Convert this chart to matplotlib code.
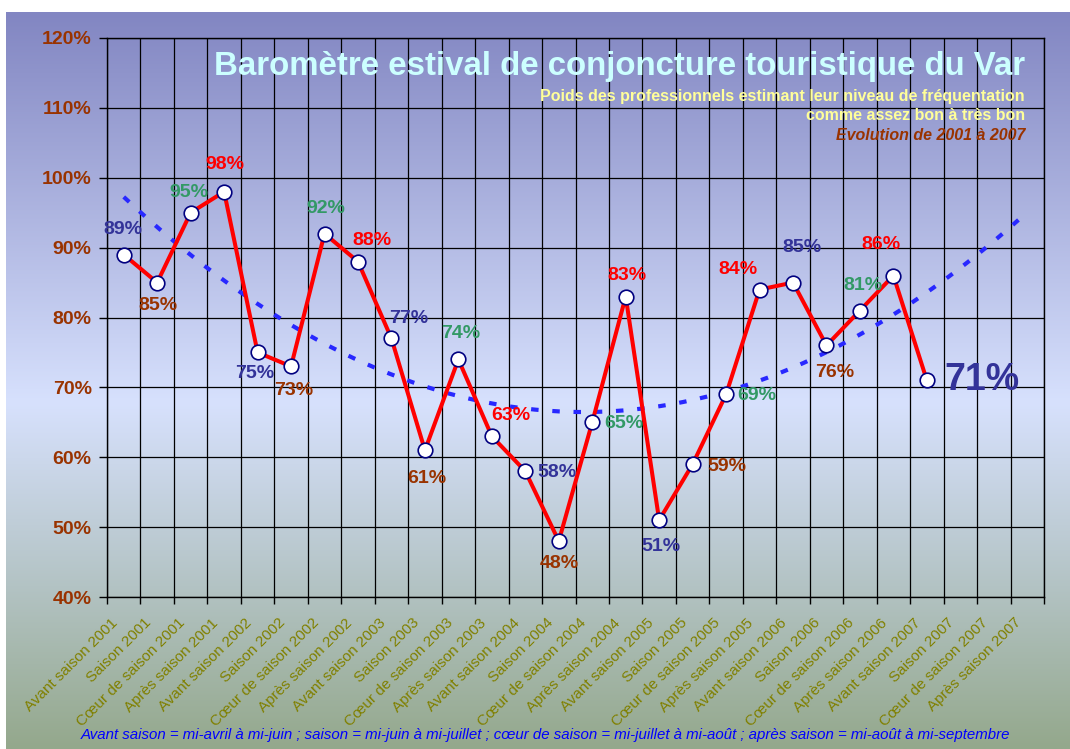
import numpy as np
import matplotlib
matplotlib.use('Agg')
import matplotlib.pyplot as plt
from matplotlib.colors import LinearSegmentedColormap
from matplotlib.transforms import ScaledTranslation

plt.rcParams['font.family'] = ['Liberation Sans', 'DejaVu Sans']

# categories (4 periods per year, 2001-2007)
periods = ['Avant saison', 'Saison', 'Cœur de saison', 'Après saison']
years = [2001, 2002, 2003, 2004, 2005, 2006, 2007]
categories = [f'{p} {y}' for y in years for p in periods]

# share of professionals with good attendance (%)
values = [89, 85, 95, 98, 75, 73, 92, 88, 77, 61, 74, 63, 58, 48, 65, 83,
          51, 59, 69, 84, 85, 76, 81, 86, 71]

# label colour per period
period_colors = ['#333399', '#993300', '#339966', '#FF0000']

# label offsets in pixels (dx, dy) from each point
label_offsets = [(-1, 25), (1, -23), (-2, 20), (1, 27), (-3, -21), (3, -24),
                 (1, 25), (14, 21), (17, 20), (2, -28), (2, 26), (19, 21),
                 (32, -1), (1, -22), (32, -1), (1, 21), (2, -26), (34, -2),
                 (31, -1), (-22, 20), (9, 35), (8, -27), (3, 25), (-12, 31)]

W, H = 1070, 749
fig = plt.figure(figsize=(W / 100, H / 100), dpi=100)
fig.patch.set_facecolor('white')

# gradient background
bg = fig.add_axes([6 / W, 0, 1 - 6 / W, 1 - 12 / H], zorder=0)
cmap = LinearSegmentedColormap.from_list(
    'bg', [(0, '#8286C2'), (0.53, '#D7E1FD'), (0.78, '#B3C3C4'), (1, '#94A88C')])
bg.imshow(np.linspace(0, 1, 256).reshape(-1, 1), aspect='auto', cmap=cmap,
          extent=[0, 1, 0, 1], origin='upper')
bg.set_axis_off()

x0, x1, y0, y1 = 107, 1044, 38, 597
ax = fig.add_axes([x0 / W, 1 - y1 / H, (x1 - x0) / W, (y1 - y0) / H], zorder=1)
ax.patch.set_alpha(0)

n = len(categories)
xs = np.arange(len(values))

# polynomial trend (order 2), extended 3 periods forward
coef = np.polyfit(xs, values, 2)
xt = np.linspace(0, n - 1, 300)
ax.plot(xt, np.polyval(coef, xt), color='#2828FF', lw=3,
        linestyle=(0, (1.8, 3.3)), zorder=2)

ax.plot(xs, values, color='#FF0000', lw=2.9, marker='o', markersize=10.5,
        markerfacecolor='white', markeredgecolor='#000080',
        markeredgewidth=1.2, zorder=3)

for i, v in enumerate(values[:-1]):
    dx, dy = label_offsets[i]
    ax.annotate(f'{v}%', (i, v), xytext=(dx, dy), textcoords='offset pixels',
                ha='center', va='center', fontsize=14, fontweight='bold',
                color=period_colors[i % 4], zorder=4)
last = len(values) - 1
ax.annotate(f'{values[last]}%', (last, values[last]), xytext=(18, 0),
            textcoords='offset pixels', ha='left', va='center', fontsize=27,
            fontweight='bold', color=period_colors[last % 4], zorder=4)

ax.set_xlim(-0.5, n - 0.5)
ax.set_ylim(40, 120)

# gridlines on category boundaries
ax.set_xticks(np.arange(n + 1) - 0.5)
ax.set_xticklabels([])
ax.set_xticks(np.arange(n), minor=True)
ax.set_xticklabels(categories, minor=True, rotation=45, ha='right',
                   va='center', rotation_mode='anchor', fontsize=11,
                   color='#808000')
ax.tick_params(axis='x', which='minor', length=0, pad=17)
ax.tick_params(axis='x', which='major', length=5, width=1, color='black')
shift = ScaledTranslation(-8 / 100, 0, fig.dpi_scale_trans)
for lab in ax.get_xticklabels(minor=True):
    lab.set_transform(lab.get_transform() + shift)

yt = np.arange(40, 121, 10)
ax.set_yticks(yt)
ax.set_yticklabels([f'{t}%' for t in yt], fontsize=14, fontweight='bold',
                   color='#993300')
ax.tick_params(axis='y', length=6, width=1, pad=5)
ax.grid(True, which='major', color='black', lw=0.9)
ax.set_axisbelow(True)
for s in ax.spines.values():
    s.set_color('black')
    s.set_linewidth(1)

fig.text(1025 / W, 1 - 66 / H, 'Baromètre estival de conjoncture touristique du Var',
         ha='right', va='center', fontsize=23.8, fontweight='bold', color='#CCFFFF',
         zorder=5)
fig.text(1025 / W, 1 - 96 / H,
         'Poids des professionnels estimant leur niveau de fréquentation',
         ha='right', va='center', fontsize=11.5, fontweight='bold', color='#FFFF99',
         zorder=5)
fig.text(1025 / W, 1 - 116 / H, 'comme assez bon à très bon',
         ha='right', va='center', fontsize=11.5, fontweight='bold', color='#FFFF99',
         zorder=5)
fig.text(1025 / W, 1 - 135 / H, 'Evolution de 2001 à 2007',
         ha='right', va='center', fontsize=11.5, fontweight='bold', style='italic',
         color='#993300', zorder=5)
fig.text(545 / W, 1 - 735 / H,
         'Avant saison = mi-avril à mi-juin ; saison = mi-juin à mi-juillet ; '
         'cœur de saison = mi-juillet à mi-août ; après saison = mi-août à mi-septembre',
         ha='center', va='center', fontsize=10.8, style='italic', color='#0000FF',
         zorder=5)

fig.savefig('out.png', dpi=100)
